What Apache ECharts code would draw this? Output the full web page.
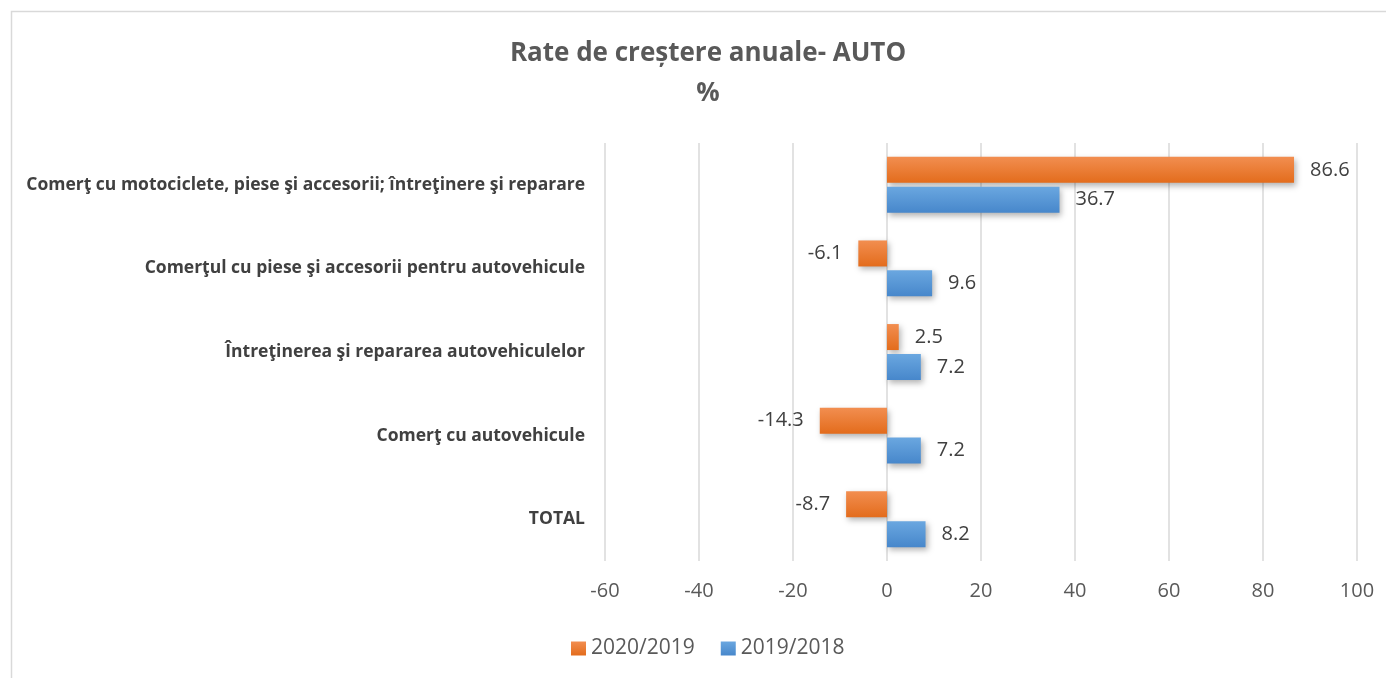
<!DOCTYPE html>
<html>
<head>
<meta charset="utf-8">
<script src="https://cdn.jsdelivr.net/npm/echarts@6/dist/echarts.min.js"></script>
<style>
    html, body { margin: 0; padding: 0; background: #fff; }
    #chart { width: 1386px; height: 678px; }
</style>
</head>
<body>
<div id="chart"></div>
<script>
// categorii, de jos in sus
var categories = [
    "TOTAL",
    "Comerţ cu autovehicule",
    "Întreţinerea şi repararea autovehiculelor",
    "Comerţul cu piese şi accesorii pentru autovehicule",
    "Comerţ cu motociclete, piese şi accesorii; întreţinere şi reparare"
];
var seriesNames = ["2020/2019", "2019/2018"];
var values2020 = [-8.7, -14.3, 2.5, -6.1, 86.6];
var values2019 = [8.2, 7.2, 7.2, 9.6, 36.7];
var xTicks = [-60, -40, -20, 0, 20, 40, 60, 80, 100];

var chart = echarts.init(document.getElementById("chart"));

function grad(top, bottom) {
    return new echarts.graphic.LinearGradient(0, 0, 0, 1, [
        { offset: 0, color: top },
        { offset: 1, color: bottom }
    ]);
}

// eticheta la stanga pentru valorile negative
function withLabels(vals) {
    return vals.map(function(v) {
        return { value: v, label: { position: v < 0 ? "left" : "right" } };
    });
}

var labelStyle = {
    show: true,
    distance: 16,
    color: "#404040",
    fontSize: 20,
    fontFamily: "Open Sans",
    formatter: function(p) { return p.value.toFixed(1); }
};

var option = {
    backgroundColor: "#fff",
    animation: false,
    graphic: [{
        type: "rect",
        shape: { x: 11.5, y: 11.5, width: 1400, height: 700 },
        style: { fill: "none", stroke: "#d9d9d9", lineWidth: 1.5 },
        silent: true
    }],
    title: {
        text: "Rate de creștere anuale- AUTO\n%",
        left: 703,
        top: 29,
        textAlign: "center",
        textStyle: {
            color: "#595959",
            fontSize: 26,
            fontWeight: "bold",
            fontFamily: "Open Sans",
            lineHeight: 40
        }
    },
    legend: {
        data: seriesNames,
        left: 566,
        top: 633,
        itemWidth: 15,
        itemHeight: 14,
        itemGap: 26,
        icon: "rect",
        textStyle: { color: "#595959", fontSize: 21, fontFamily: "Open Sans" }
    },
    grid: {
        left: 605,
        right: 29,
        top: 143,
        bottom: 117,
        containLabel: false
    },
    xAxis: {
        type: "value",
        min: xTicks[0],
        max: xTicks[xTicks.length - 1],
        interval: 20,
        axisLine: { show: false },
        axisTick: { show: false },
        axisLabel: {
            color: "#595959",
            fontSize: 20,
            fontFamily: "Open Sans",
            margin: 20
        },
        splitLine: { lineStyle: { color: "#d9d9d9", width: 1.5 } }
    },
    yAxis: {
        type: "category",
        data: categories,
        axisLine: { show: false },
        axisTick: { show: false },
        axisLabel: {
            color: "#404040",
            fontSize: 17.5,
            fontWeight: "bold",
            fontFamily: "Open Sans",
            margin: 20
        }
    },
    series: [{
        name: seriesNames[0],
        type: "bar",
        barWidth: 26,
        barGap: "15%",
        data: withLabels(values2020),
        itemStyle: {
            color: grad("#F28E50", "#E36C1C"),
            shadowColor: "rgba(0,0,0,0.3)",
            shadowBlur: 6,
            shadowOffsetX: 2,
            shadowOffsetY: 3
        },
        label: labelStyle
    }, {
        name: seriesNames[1],
        type: "bar",
        barWidth: 26,
        barGap: "15%",
        data: withLabels(values2019),
        itemStyle: {
            color: grad("#6AA7E0", "#4787CB"),
            shadowColor: "rgba(0,0,0,0.3)",
            shadowBlur: 6,
            shadowOffsetX: 2,
            shadowOffsetY: 3
        },
        label: labelStyle
    }]
};

chart.setOption(option);
</script>
</body>
</html>
